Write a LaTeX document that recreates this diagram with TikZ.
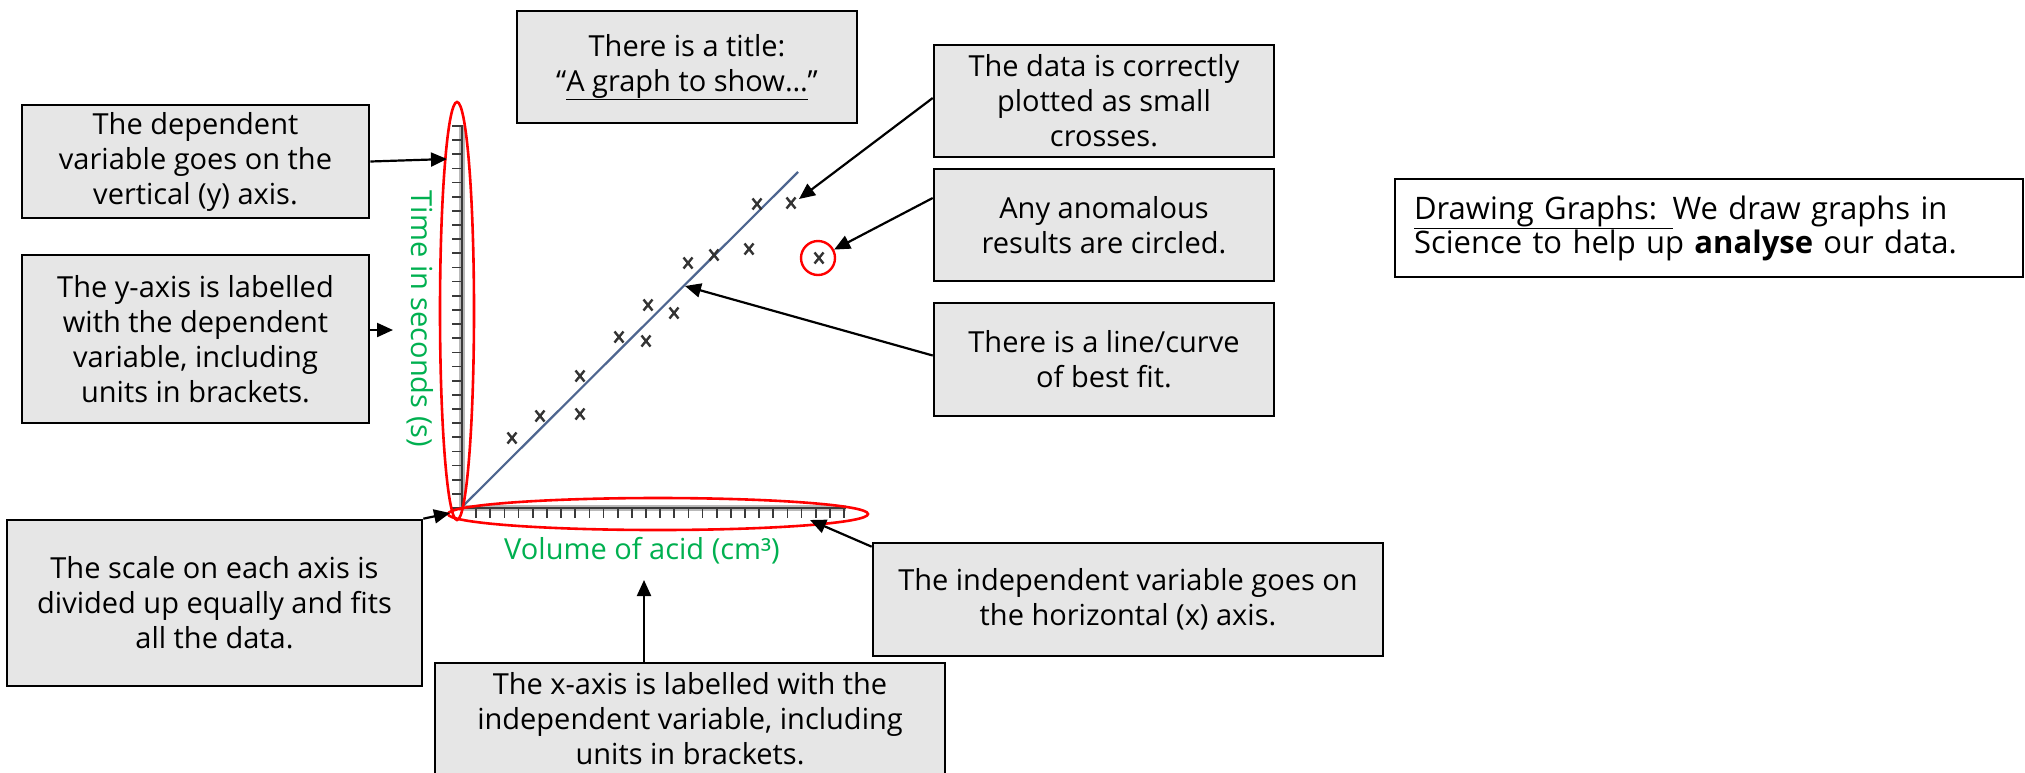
\documentclass[tikz,border=0pt]{standalone}
\usepackage{fontspec}
\setmainfont{Open Sans}
\usetikzlibrary{arrows.meta}
\definecolor{boxgray}{HTML}{E6E6E6}
\definecolor{labgreen}{HTML}{00B050}
\definecolor{fitblue}{HTML}{4E6690}
\definecolor{axisgray}{HTML}{3A3A3A}
\definecolor{markgray}{HTML}{333333}
\begin{document}
\begin{tikzpicture}[x=1pt,y=-1pt,
  callout/.style={draw=black, line width=2.6pt, fill=boxgray, align=center,
    inner sep=0pt, font=\fontsize{29}{35}\selectfont},
  pointer/.style={draw=black, line width=2.2pt, -{Triangle[length=16pt,width=14pt]}},
  ring/.style={draw=red, line width=2.6pt},
  axislabel/.style={text=labgreen, inner sep=0pt, font=\fontsize{29}{30}\selectfont},
  tick/.style={draw=axisgray, line width=1.7pt},
  crossmark/.style={draw=markgray, line width=2.4pt}]
\clip (0,0) rectangle (2025,772);
\fill[white] (0,0) rectangle (2025,772);

% ---- axes with tick marks ----
\draw[gray!55, line width=6pt] (462,125) -- (462,508) -- (846,508);
\draw[axisgray, line width=2.6pt] (462,125) -- (462,508) -- (846,508);
\foreach \k in {0,...,27}
  \draw[tick] (452,{508-\k*14.15}) -- (462,{508-\k*14.15});
\foreach \k in {1,...,27}
  \draw[tick] ({462+\k*14.15},508) -- ({462+\k*14.15},518);

% ---- line of best fit and data points ----
\draw[fitblue, line width=2.2pt] (462,507) -- (798,172);
\foreach \px/\py in {512/438, 540/416, 580/414, 580/376, 619/337, 646/341,
    648/305, 674/313, 688/263, 714/255, 749/249, 757/204, 791/203, 819/258}
  \draw[crossmark] (\px-4.5,\py-5.5) -- (\px+4.5,\py+5.5) (\px-4.5,\py+5.5) -- (\px+4.5,\py-5.5);

% ---- red highlights ----
\draw[ring] (457,311) ellipse [x radius=17pt, y radius=209pt];
\draw[ring] (658,514) ellipse [x radius=210pt, y radius=16pt];
\node[circle, draw=red, line width=2.4pt, minimum size=34pt, inner sep=0pt] (anomring) at (818,258) {};

% ---- axis titles ----
\node[axislabel, rotate=-90] (ytitle) at (420,319) {Time in seconds (s)};
\node[axislabel] (xtitle) at (642,551) {Volume of acid (cm³)};

% ---- callout boxes ----
\node[callout, minimum width=347pt, minimum height=113pt] (dep) at (195.5,161.5)
  {The dependent\\variable goes on the\\vertical (y) axis.};
\node[callout, minimum width=347pt, minimum height=168pt] (ylab) at (195.5,339)
  {The y-axis is labelled\\with the dependent\\variable, including\\units in brackets.};
\node[callout, minimum width=340pt, minimum height=112pt] (title) at (687,67)
  {There is a title:\\“\underline{A graph to show…}”};
\node[callout, minimum width=340pt, minimum height=112pt] (data) at (1104,101)
  {The data is correctly\\plotted as small\\crosses.};
\node[callout, minimum width=340pt, minimum height=112pt] (anom) at (1104,225)
  {Any anomalous\\results are circled.};
\node[callout, minimum width=340pt, minimum height=113pt] (fit) at (1104,359.5)
  {There is a line/curve\\of best fit.};
\node[callout, minimum width=415pt, minimum height=166pt] (scale) at (214.5,603)
  {The scale on each axis is\\divided up equally and fits\\all the data.};
\node[callout, minimum width=510pt, minimum height=113pt] (indep) at (1128,599.5)
  {The independent variable goes on\\the horizontal (x) axis.};
\node[callout, minimum width=510pt, minimum height=112pt] (xlab) at (690,719)
  {The x-axis is labelled with the\\independent variable, including\\units in brackets.};
\node[draw=black, line width=2pt, fill=white, text width=590pt, align=left,
  inner xsep=19pt, inner ysep=0pt, minimum height=98pt,
  font=\fontsize{31}{31}\selectfont] (info) at (1709,228)
  {\underline{Drawing Graphs: }We draw graphs in\\Science to help up \textbf{analyse} our data.};

% ---- free ends of the pointers ----
\coordinate (yaxistop) at (447,159);
\coordinate (ytitlept) at (393,330);
\coordinate (toppt) at (799,199);
\coordinate (fitpt) at (685,286);
\coordinate (origin) at (450,513);
\coordinate (xaxispt) at (810,520);
\coordinate (xtitlept) at (644,580);

% ---- pointers ----
\draw[pointer] (dep.east) -- (yaxistop);
\draw[pointer] ([yshift=9pt]ylab.east) -- (ytitlept);
\draw[pointer] ([yshift=3pt]data.west) -- (toppt);
\draw[pointer] ([yshift=27pt]anom.west) -- (anomring);
\draw[pointer] ([yshift=4pt]fit.west) -- (fitpt);
\draw[pointer] (scale.north east) -- (origin);
\draw[pointer] ([yshift=-5pt]indep.north west) -- (xaxispt);
\draw[pointer] ([xshift=-46pt]xlab.north) -- (xtitlept);
\end{tikzpicture}
\end{document}
